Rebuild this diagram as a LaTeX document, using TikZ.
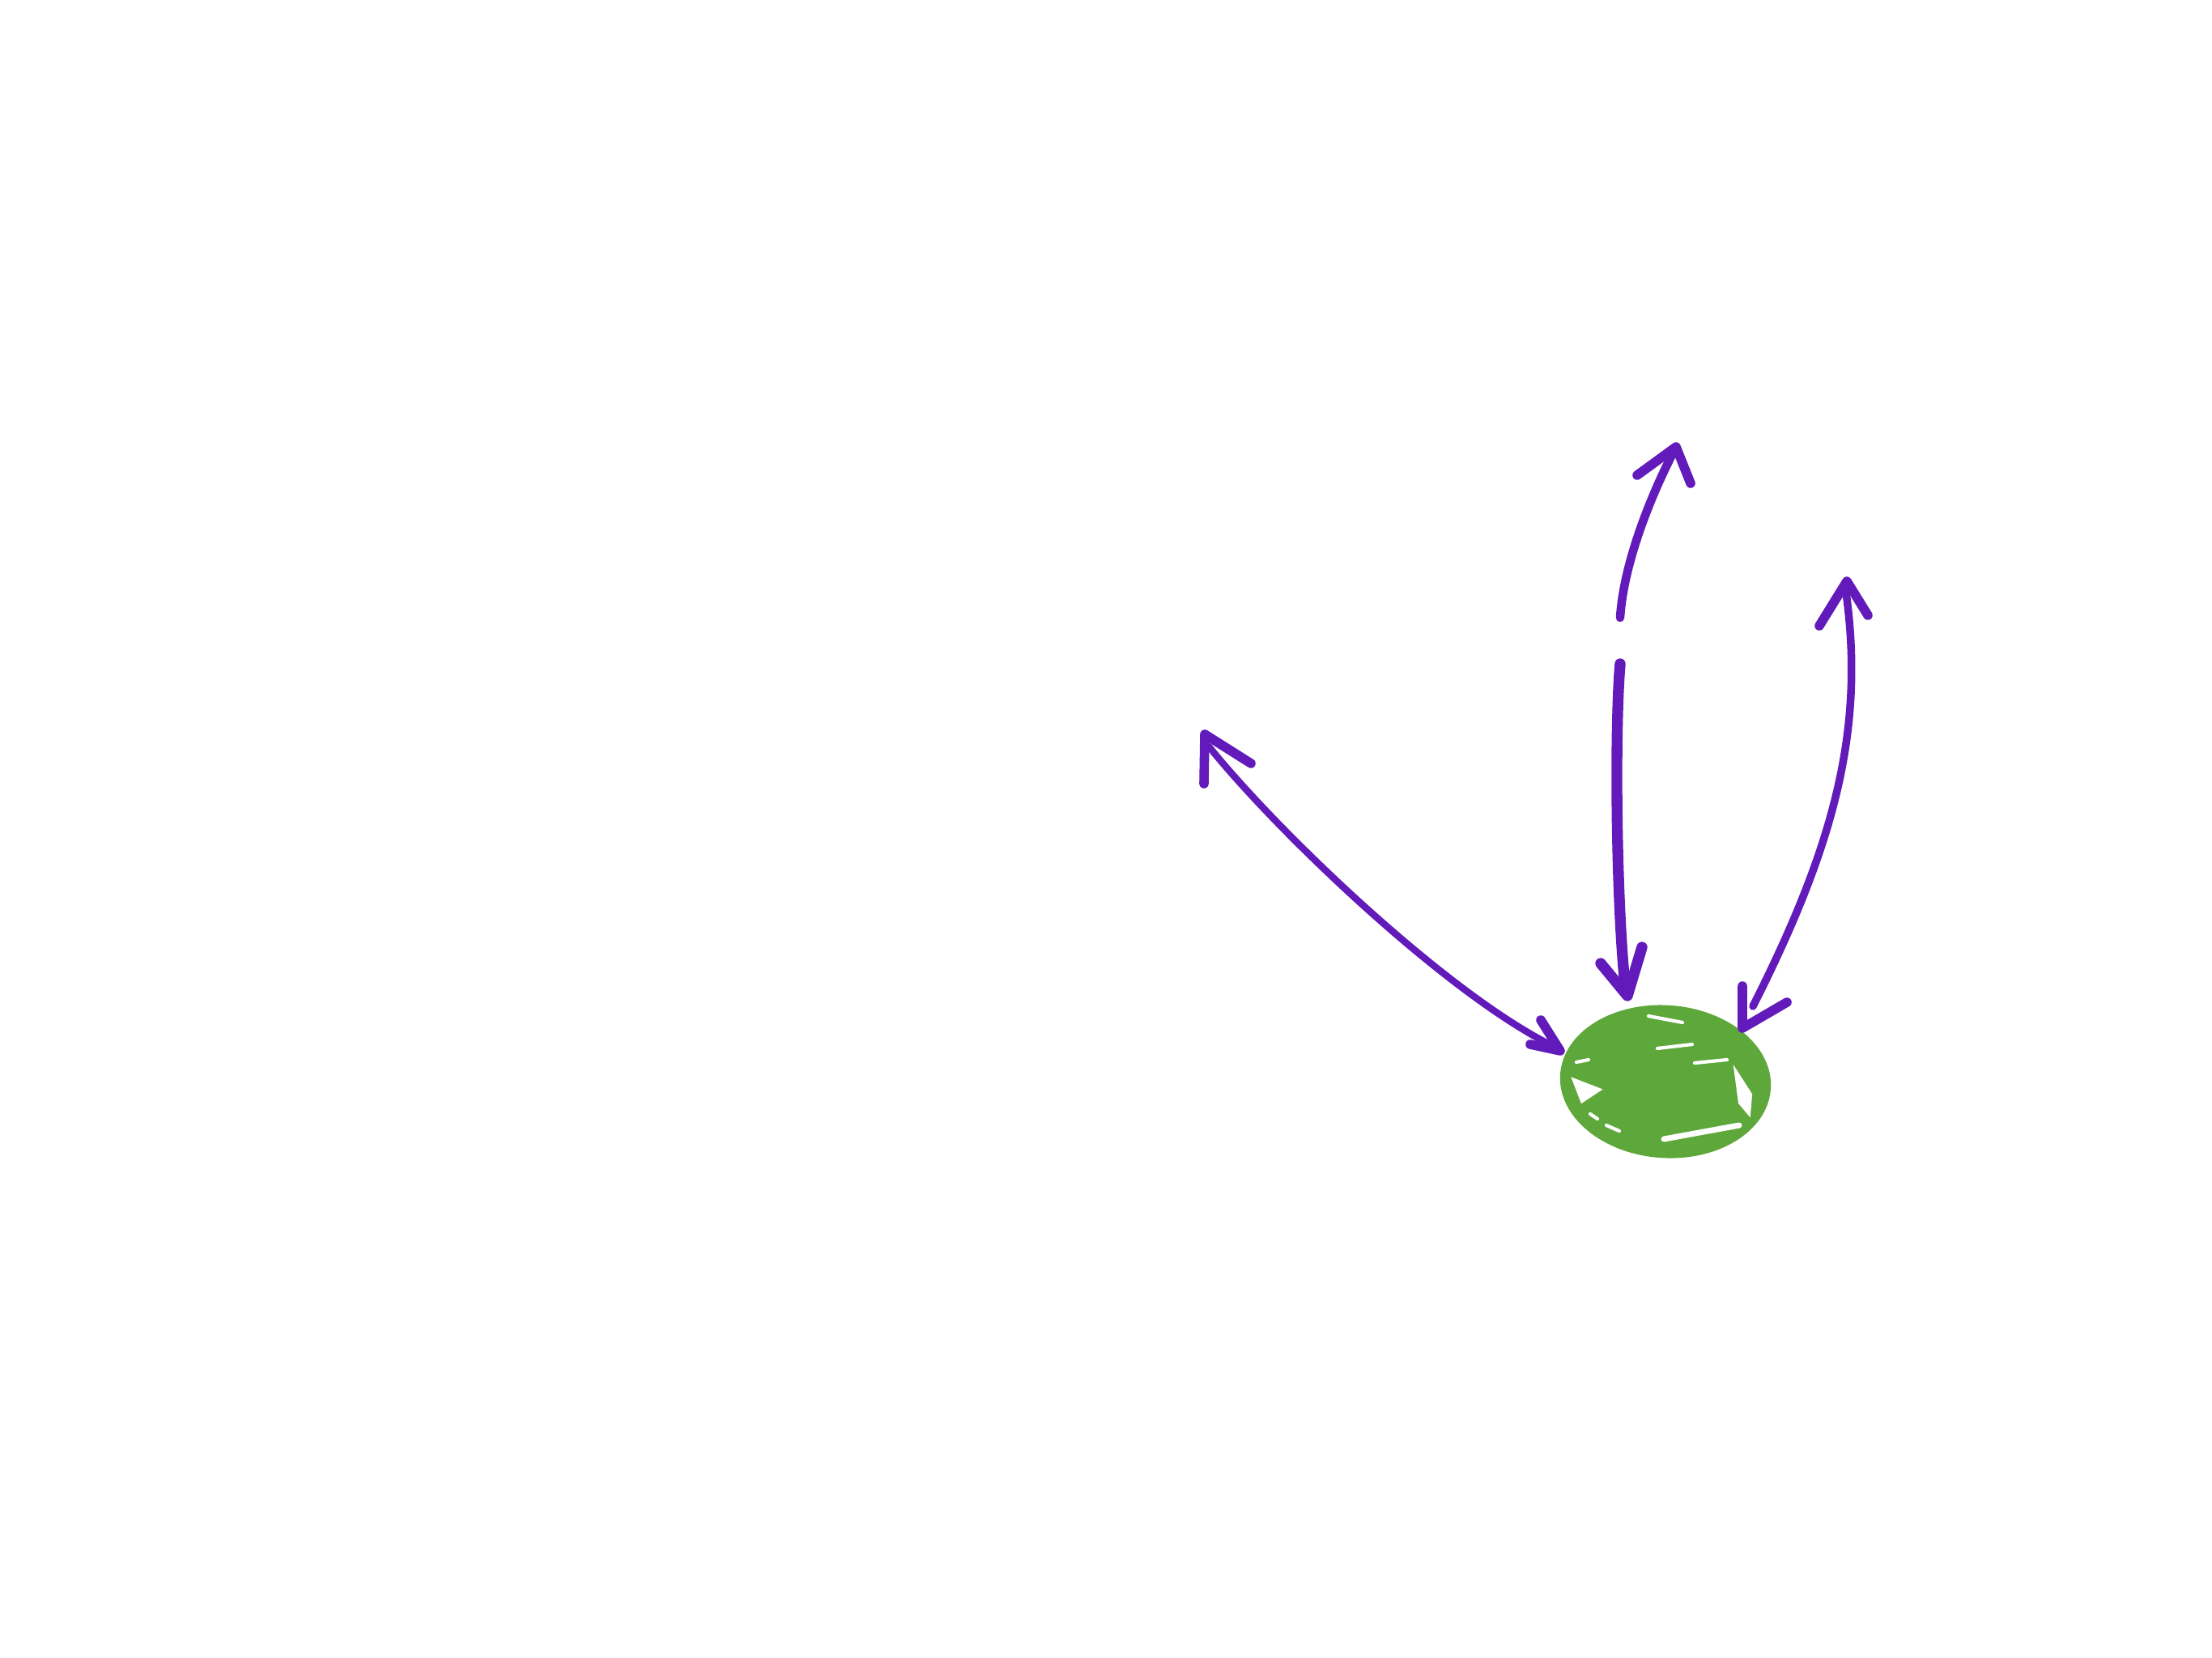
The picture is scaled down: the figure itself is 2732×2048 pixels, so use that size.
\documentclass[tikz,border=0pt]{standalone}
\usetikzlibrary{shapes.geometric}
\definecolor{ink}{RGB}{98,26,186}
\definecolor{leaf}{RGB}{94,168,59}
\begin{document}
\begin{tikzpicture}[x=0.01cm,y=-0.01cm,
  shaft/.style={draw=ink,line cap=round,line join=round},
  head/.style={draw=ink,line width=3.3pt,line cap=round,line join=round},
  gap/.style={draw=white,line cap=round,line width=1.2pt}]
\useasboundingbox[fill=white] (0,0) rectangle (2732,2048);
% the green blob
\node[ellipse,draw=leaf,fill=leaf,line width=3pt,minimum width=2.5cm,minimum height=1.78cm,rotate=-4] (blob) at (2057,1336) {};
\draw[gap] (1947,1312) -- (1962,1309);
\draw[gap,fill=white] (1944,1334) -- (1954,1360) -- (1975,1346) -- cycle;
\draw[gap,fill=white] (2144,1324) -- (2162,1352) -- (2160,1375) -- (2149,1362) -- cycle;
\draw[gap,line width=2pt] (2055,1407) -- (2148,1390);
\draw[gap] (2093,1313) -- (2133,1309);
\draw[gap] (2047,1295) -- (2090,1290);
\draw[gap] (2036,1255) -- (2078,1263);
\draw[gap] (1984,1390) -- (2000,1397);
\draw[gap] (1964,1376) -- (1973,1382);
% named ends
\coordinate (a1) at (1493,922);  \coordinate (a2) at (1920,1293);
\coordinate (b1) at (2068,556);  \coordinate (b2) at (2001,763);
\coordinate (b3) at (2001,820);  \coordinate (b4) at (2008,1226);
\coordinate (c1) at (2279,725);  \coordinate (c2) at (2165,1243);
% left arrow
\draw[shaft,line width=2.4pt] (a1) .. controls (1580,1030) and (1790,1230) .. (a2);
\draw[head] (1487,968) -- (1488,907) -- (1545,943);
\draw[head] (1903,1260) -- (1927,1298) -- (1890,1290);
% middle arrow, upper piece
\draw[shaft,line width=3pt] (b2) .. controls (2005,700) and (2035,620) .. (b1);
\draw[head] (2022,587) -- (2070,552) -- (2088,597);
% middle arrow, lower piece
\draw[shaft,line width=3.8pt] (b3) .. controls (1994,900) and (1996,1120) .. (b4);
\draw[head,line width=3.8pt] (1977,1190) -- (2010,1230) -- (2028,1170);
% right arrow
\draw[shaft,line width=2.7pt] (c1) .. controls (2305,900) and (2265,1045) .. (c2);
\draw[head] (2247,773) -- (2281,718) -- (2307,760);
\draw[head] (2152,1218) -- (2152,1270) -- (2207,1238);
\end{tikzpicture}
\end{document}
